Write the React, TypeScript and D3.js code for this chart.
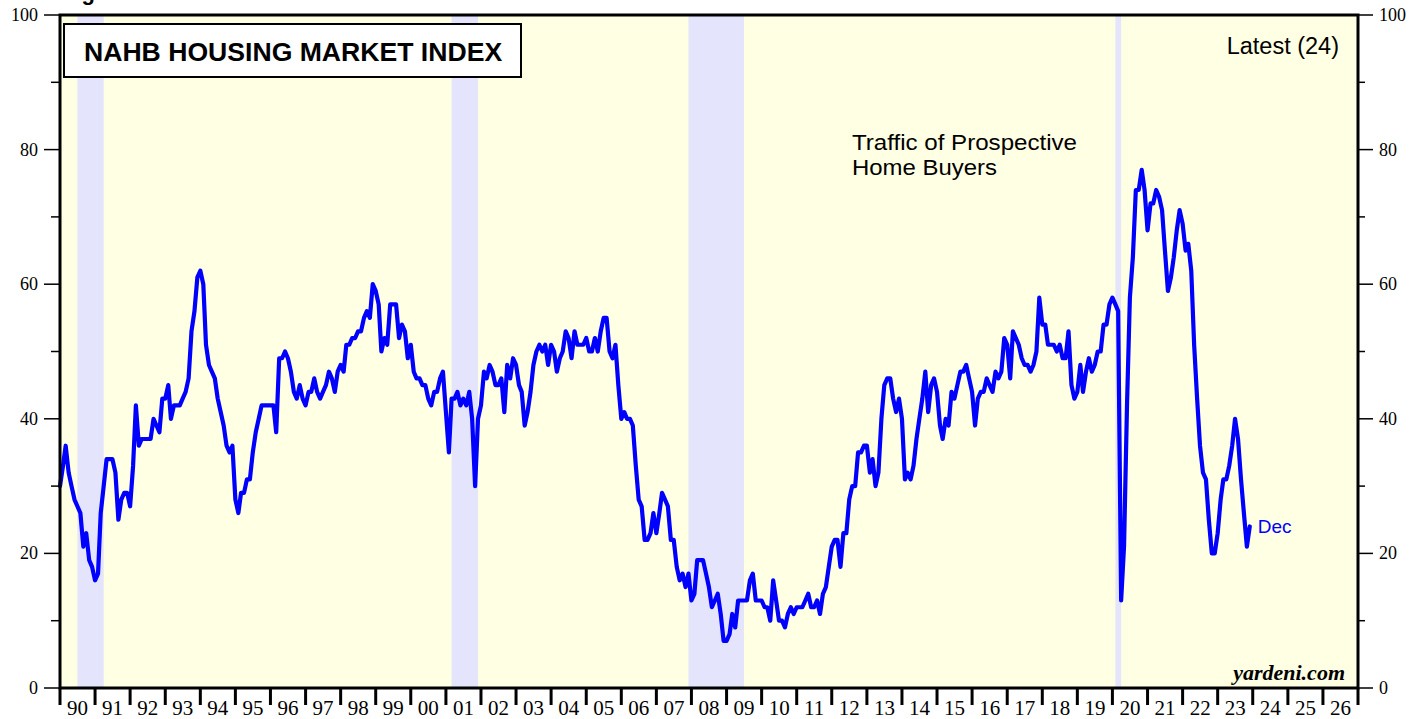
import React from 'react';
import * as d3 from 'd3';

// NAHB Housing Market Index: Traffic of Prospective Home Buyers, monthly, Jan 1990 - Dec 2023
const startYear = 1990;
const monthlyTraffic: number[] = [
  30, 33, 36, 32, 30, 28, 27, 26, 21, 23, 19, 18, // 1990
  16, 17, 26, 30, 34, 34, 34, 32, 25, 28, 29, 29, // 1991
  27, 33, 42, 36, 37, 37, 37, 37, 40, 39, 38, 43, // 1992
  43, 45, 40, 42, 42, 42, 43, 44, 46, 53, 56, 61, // 1993
  62, 60, 51, 48, 47, 46, 43, 41, 39, 36, 35, 36, // 1994
  28, 26, 29, 29, 31, 31, 35, 38, 40, 42, 42, 42, // 1995
  42, 42, 38, 49, 49, 50, 49, 47, 44, 43, 45, 43, // 1996
  42, 44, 44, 46, 44, 43, 44, 45, 47, 46, 44, 47, // 1997
  48, 47, 51, 51, 52, 52, 53, 53, 55, 56, 55, 60, // 1998
  59, 57, 50, 52, 51, 57, 57, 57, 52, 54, 53, 49, // 1999
  51, 47, 46, 46, 45, 45, 43, 42, 44, 44, 46, 47, // 2000
  41, 35, 43, 43, 44, 42, 43, 42, 44, 40, 30, 40, // 2001
  42, 47, 46, 48, 47, 45, 45, 46, 41, 48, 46, 49, // 2002
  48, 45, 44, 39, 41, 44, 48, 50, 51, 50, 51, 48, // 2003
  51, 50, 47, 49, 50, 53, 52, 49, 53, 51, 51, 51, // 2004
  52, 50, 50, 52, 50, 53, 55, 55, 50, 49, 51, 45, // 2005
  40, 41, 40, 40, 39, 33, 28, 27, 22, 22, 23, 26, // 2006
  23, 26, 29, 28, 27, 22, 22, 18, 16, 17, 15, 17, // 2007
  13, 14, 19, 19, 19, 17, 15, 12, 13, 14, 11, 7,  // 2008
  7, 8, 11, 9, 13, 13, 13, 13, 16, 17, 13, 13,    // 2009
  13, 12, 12, 10, 16, 13, 10, 10, 9, 11, 12, 11,  // 2010
  12, 12, 12, 13, 14, 12, 12, 13, 11, 14, 15, 18, // 2011
  21, 22, 22, 18, 23, 23, 28, 30, 30, 35, 35, 36, // 2012
  36, 32, 34, 30, 32, 40, 45, 46, 46, 43, 41, 43, // 2013
  40, 31, 32, 31, 33, 37, 40, 43, 47, 41, 45, 46, // 2014
  44, 39, 37, 40, 39, 44, 43, 45, 47, 47, 48, 46, // 2015
  44, 39, 43, 44, 44, 46, 45, 44, 47, 46, 47, 52, // 2016
  51, 46, 53, 52, 51, 49, 48, 48, 47, 48, 50, 58, // 2017
  54, 54, 51, 51, 51, 50, 51, 49, 49, 53, 45, 43, // 2018
  44, 48, 44, 47, 49, 47, 48, 50, 50, 54, 54, 57, // 2019
  58, 57, 56, 13, 21, 42, 58, 64, 74, 74, 77, 74, // 2020
  68, 72, 72, 74, 73, 71, 65, 59, 61, 64, 68, 71, // 2021
  69, 65, 66, 62, 51, 43, 36, 32, 31, 25, 20, 20, // 2022
  23, 28, 31, 31, 33, 36, 40, 37, 31, 26, 21, 24, // 2023
];

const xYearLabels = ['90','91','92','93','94','95','96','97','98','99','00','01','02','03','04','05','06','07','08','09','10','11','12','13','14','15','16','17','18','19','20','21','22','23','24','25','26'];
const yMajorTicks = [0, 20, 40, 60, 80, 100];
const yMinorTicks = [10, 30, 50, 70, 90];
const recessionStarts = ['1990-07-01', '2001-03-01', '2007-12-01', '2020-02-01'];
const recessionEnds = ['1991-04-01', '2001-12-01', '2009-07-01', '2020-04-01'];
const seriesLabelLines = ['Traffic of Prospective', 'Home Buyers'];
const seriesLabelWidths = [225, 145];

const W = 1426;
const H = 719;
const L = 60, R = 1358, T = 15, B = 688;

export default function App() {
  const x = d3.scaleTime().domain([new Date(1990, 0, 1), new Date(2027, 0, 1)]).range([L, R]);
  const y = d3.scaleLinear().domain([0, 100]).range([B, T]);
  const data = monthlyTraffic.map((v, i) => ({ date: new Date(startYear, i, 1), v }));
  const line = d3.line<{ date: Date; v: number }>().x(d => x(d.date)).y(d => y(d.v));
  const last = data[data.length - 1];
  const yearBounds = d3.range(1990, 2028);
  const serif = '"Liberation Serif", "Times New Roman", serif';
  const sans = '"Liberation Sans", Arial, sans-serif';

  return (
    <svg width={W} height={H} style={{ position: 'absolute', left: 0, top: 0, background: '#fff' }}>
      <text x={62} y={0} fontFamily={sans} fontWeight="bold" fontSize={22} fill="#000">Figure 4.</text>
      <rect x={L} y={T} width={R - L} height={B - T} fill="#FFFFE4" />
      {recessionStarts.map((s, i) => {
        const x0 = x(new Date(s));
        const x1 = x(new Date(recessionEnds[i]));
        return <rect key={s} x={x0} y={T} width={x1 - x0} height={B - T} fill="#E4E4FC" />;
      })}
      <path d={line(data) || ''} fill="none" stroke="#0000FF" strokeWidth={4.2} strokeLinejoin="round" strokeLinecap="round" />
      <rect x={L} y={T} width={R - L} height={B - T} fill="none" stroke="#000" strokeWidth={3} />
      {/* left and right axes */}
      {yMajorTicks.map(t => (
        <g key={'lm' + t}>
          <line x1={44} x2={L} y1={y(t)} y2={y(t)} stroke="#000" strokeWidth={1.5} />
          <text x={38} y={y(t) + 6} textAnchor="end" fontFamily={serif} fontSize={18}>{t}</text>
          <line x1={R} x2={1373} y1={y(t)} y2={y(t)} stroke="#000" strokeWidth={1.5} />
          <text x={1379} y={y(t) + 6} textAnchor="start" fontFamily={serif} fontSize={18}>{t}</text>
        </g>
      ))}
      {yMinorTicks.map(t => (
        <g key={'ln' + t}>
          <line x1={51} x2={L} y1={y(t)} y2={y(t)} stroke="#000" strokeWidth={1.5} />
          <line x1={R} x2={1365} y1={y(t)} y2={y(t)} stroke="#000" strokeWidth={1.5} />
        </g>
      ))}
      {/* bottom axis */}
      {yearBounds.map(yr => (
        <line key={'xt' + yr} x1={x(new Date(yr, 0, 1))} x2={x(new Date(yr, 0, 1))} y1={B} y2={705} stroke="#000" strokeWidth={3} />
      ))}
      {xYearLabels.map((lab, i) => {
        const cx = (x(new Date(1990 + i, 0, 1)) + x(new Date(1991 + i, 0, 1))) / 2;
        return (
          <text key={'xl' + lab + i} x={cx} y={714.5} textAnchor="middle" fontFamily={serif} fontSize={21}>{lab}</text>
        );
      })}
      {/* title box */}
      <rect x={64} y={24} width={457} height={53} fill="#fff" stroke="#000" strokeWidth={2} />
      <text x={84} y={61} fontFamily={sans} fontWeight="bold" fontSize={26.6} fill="#000">NAHB HOUSING MARKET INDEX</text>
      <text x={1339} y={54} textAnchor="end" fontFamily={sans} fontSize={23.5} fill="#000">{`Latest (${last.v})`}</text>
      {seriesLabelLines.map((s, i) => (
        <text key={s} x={852} y={149.5 + i * 25.5} fontFamily={sans} fontSize={22} fill="#000"
          textLength={seriesLabelWidths[i]} lengthAdjust="spacingAndGlyphs">{s}</text>
      ))}
      <text x={x(last.date) + 8} y={y(last.v) + 7} fontFamily={sans} fontSize={19} fill="#0000FF">Dec</text>
      <text x={1345} y={680} textAnchor="end" fontFamily={serif} fontWeight="bold" fontStyle="italic" fontSize={22} fill="#000">yardeni.com</text>
    </svg>
  );
}
